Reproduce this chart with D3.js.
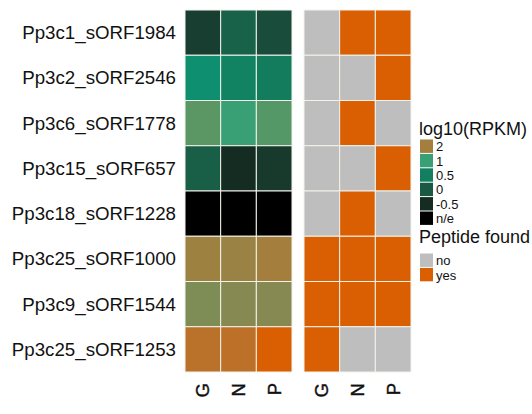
<!DOCTYPE html>
<html><head><meta charset="utf-8">
<script src="https://cdn.jsdelivr.net/npm/d3@7"></script>
<style>body{margin:0;background:#fff}svg{display:block}text{font-family:"Liberation Sans",Arial,sans-serif}</style>
</head><body>
<svg id="c" width="532" height="414"></svg>
<script>
const rows = ["Pp3c1_sORF1984","Pp3c2_sORF2546","Pp3c6_sORF1778","Pp3c15_sORF657","Pp3c18_sORF1228","Pp3c25_sORF1000","Pp3c9_sORF1544","Pp3c25_sORF1253"];
const cols = ["G","N","P"];
// log10(RPKM) per row, columns G,N,P (null = n/e)
const rpkmG = [-0.3, 0.75, 1.25, 0.05, null, 1.9, 1.5, 2.45];
const rpkmN = [0.1, 0.55, 1.0, -0.5, null, 1.85, 1.6, 2.5];
const rpkmP = [-0.15, 0.45, 1.2, -0.35, null, 2.0, 1.6, 3.0];
// peptide found per row, columns G,N,P
const pepG = ["no","no","no","no","no","yes","yes","yes"];
const pepN = ["yes","no","yes","no","yes","yes","yes","no"];
const pepP = ["yes","yes","no","yes","no","yes","yes","no"];
const legendRpkm = [{label:"2",v:2},{label:"1",v:1},{label:"0.5",v:0.5},{label:"0",v:0},{label:"-0.5",v:-0.5},{label:"n/e",v:null}];
const legendPep = ["no","yes"];

const svg = d3.select("#c");
const color = d3.scaleLinear()
  .domain([-0.5, 0, 0.5, 0.75, 1, 1.5, 2, 2.5, 3])
  .range(["#152c22","#1a5a44","#128060","#0e9070","#38a074","#7e8c56","#a47e3c","#bc7028","#d95f02"])
  .clamp(true);
const fillR = v => v == null ? "#000000" : color(v);
const pepColor = d3.scaleOrdinal().domain(["no","yes"]).range(["#bebebe","#d95f02"]);

const y = d3.scaleBand().domain(rows).range([10, 372]);
const xL = d3.scaleBand().domain(cols).range([185, 292]);
const xR = d3.scaleBand().domain(cols).range([304, 411]);

const rp = [rpkmG, rpkmN, rpkmP];
const pp = [pepG, pepN, pepP];
const cellsL = [], cellsR = [];
rows.forEach((r,i)=>cols.forEach((c,j)=>{
  cellsL.push({r,c,v:rp[j][i]});
  cellsR.push({r,c,v:pp[j][i]});
}));

svg.append("g").selectAll("rect").data(cellsL).join("rect")
  .attr("x",d=>xL(d.c)).attr("y",d=>y(d.r))
  .attr("width",xL.bandwidth()).attr("height",y.bandwidth())
  .attr("fill",d=>fillR(d.v)).attr("stroke","#f2f2ea").attr("stroke-width",1);
svg.append("g").selectAll("rect").data(cellsR).join("rect")
  .attr("x",d=>xR(d.c)).attr("y",d=>y(d.r))
  .attr("width",xR.bandwidth()).attr("height",y.bandwidth())
  .attr("fill",d=>pepColor(d.v)).attr("stroke","#f2f2ea").attr("stroke-width",1);

// row labels
svg.append("g").selectAll("text").data(rows).join("text")
  .attr("x",176).attr("y",d=>y(d)+y.bandwidth()/2)
  .attr("text-anchor","end").attr("dominant-baseline","central")
  .attr("font-size",18.7).attr("fill","#111").text(d=>d);

// column labels (rotated)
[xL,xR].forEach(x=>{
  svg.append("g").selectAll("text").data(cols).join("text")
    .attr("transform",d=>`translate(${x(d)+x.bandwidth()/2},383) rotate(-90)`)
    .attr("text-anchor","end").attr("dominant-baseline","central")
    .attr("font-size",18.5).attr("fill","#111").attr("stroke","#111").attr("stroke-width",0.4).text(d=>d);
});

// legend 1
const lg = svg.append("g");
lg.append("text").attr("x",419).attr("y",135).attr("font-size",18).attr("fill","#111").text("log10(RPKM)");
const kh = 14.4;
const ly = d3.scaleBand().domain(legendRpkm.map(d=>d.label)).range([139, 139+kh*legendRpkm.length]);
lg.selectAll("rect.k").data(legendRpkm).join("rect").attr("class","k")
  .attr("x",420).attr("y",d=>ly(d.label)+0.5).attr("width",13).attr("height",kh-1)
  .attr("fill",d=>fillR(d.v));
lg.selectAll("text.l").data(legendRpkm).join("text").attr("class","l")
  .attr("x",436).attr("y",d=>ly(d.label)+kh/2+0.5).attr("dominant-baseline","central")
  .attr("font-size",13).attr("fill","#111").text(d=>d.label);

// legend 2
lg.append("text").attr("x",419).attr("y",243).attr("font-size",18).attr("fill","#111").text("Peptide found");
const ly2 = d3.scaleBand().domain(legendPep).range([253, 253+kh*legendPep.length]);
lg.selectAll("rect.p").data(legendPep).join("rect").attr("class","p")
  .attr("x",420).attr("y",d=>ly2(d)+0.5).attr("width",13).attr("height",kh-1)
  .attr("fill",d=>pepColor(d));
lg.selectAll("text.pl").data(legendPep).join("text").attr("class","pl")
  .attr("x",436).attr("y",d=>ly2(d)+kh/2+0.5).attr("dominant-baseline","central")
  .attr("font-size",13).attr("fill","#111").text(d=>d);
</script>
</body></html>
